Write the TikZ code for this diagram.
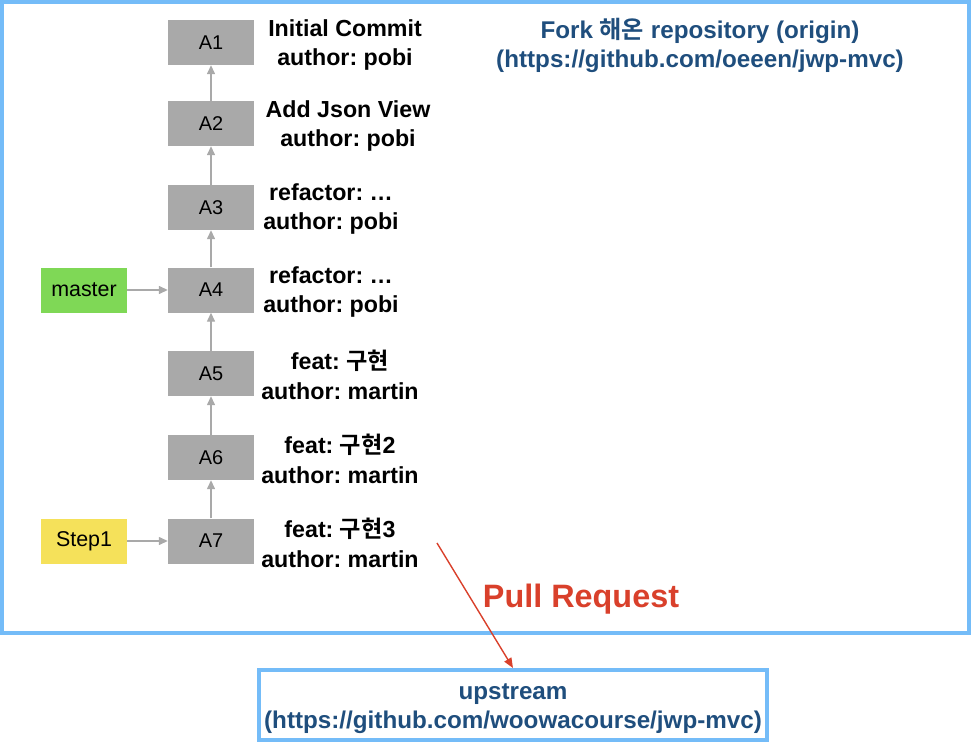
\documentclass[tikz,border=0pt]{standalone}
\usepackage{fontspec}
\setmainfont{Liberation Sans}
\newfontfamily\kr{Noto Sans CJK KR}[BoldFont={Noto Sans CJK KR Bold}]
\usetikzlibrary{arrows.meta}
\frenchspacing
\definecolor{frameblue}{HTML}{74BCF8}
\definecolor{txtblue}{HTML}{1F4E7D}
\definecolor{boxgray}{HTML}{A9A9A9}
\definecolor{mastergreen}{HTML}{7FD856}
\definecolor{stepyellow}{HTML}{F5E15A}
\definecolor{prred}{HTML}{D9402B}
\tikzset{
  commit/.style={fill=boxgray, minimum width=86bp, minimum height=45bp, inner sep=0pt, font=\fontsize{20}{22}\selectfont},
  branch/.style={minimum width=86bp, minimum height=45bp, inner sep=0pt, font=\fontsize{21.5}{22}\selectfont},
  msg/.style={align=center, inner sep=0pt, font=\fontsize{23.3}{29.5}\selectfont\bfseries},
  parent/.style={draw=boxgray, line width=1.4bp, -{Triangle[length=9bp,width=8bp]}},
  frame/.style={draw=frameblue, line width=4bp},
  bluetxt/.style={align=center, inner sep=0pt, text=txtblue, font=\fontsize{24.3}{29}\selectfont\bfseries},
}
\begin{document}
\begin{tikzpicture}[x=1bp,y=-1bp]
\frenchspacing
\useasboundingbox (0,0) rectangle (972,743);
\draw[frame] (2,2) rectangle (969,633);
\node[commit] (A1) at (211,42.5) {A1};
\node[commit] (A2) at (211,123.5) {A2};
\node[commit] (A3) at (211,207.5) {A3};
\node[commit] (A4) at (211,290) {A4};
\node[commit] (A5) at (211,373.5) {A5};
\node[commit] (A6) at (211,457.5) {A6};
\node[commit] (A7) at (211,541) {A7};
\node[branch, fill=mastergreen] (master) at (84,290) {master};
\node[branch, fill=stepyellow] (step1) at (84,541) {Step1};
\node[msg] (m1) at (345,45) {Initial Commit\\author: pobi};
\node[msg] (m2) at (348,126) {Add Json View\\author: pobi};
\node[msg] (m3) at (331,209) {refactor: \ldots\\author: pobi};
\node[msg] (m4) at (331,292) {refactor: \ldots\\author: pobi};
\node[msg] (m5) at (340,375) {feat: {\kr 구현}\\author: martin};
\node[msg] (m6) at (340,459) {feat: {\kr 구현}2\\author: martin};
\node[msg] (m7) at (340,543) {feat: {\kr 구현}3\\author: martin};
\draw[parent] (A2) -- (A1);
\draw[parent] (A3) -- (A2);
\draw[parent] (A4) -- (A3);
\draw[parent] (A5) -- (A4);
\draw[parent] (A6) -- (A5);
\draw[parent] (A7) -- (A6);
\draw[parent] (master) -- (A4);
\draw[parent] (step1) -- (A7);
\node[bluetxt] (origin) at (700,45) {Fork {\kr 해온} repository (origin)\\(https://github.com/oeeen/jwp-mvc)};
\node[frame, minimum width=508bp, minimum height=70bp, inner sep=0pt] (up) at (513,705) {};
\node[bluetxt] (uptxt) at (513,709) {upstream\\(https://github.com/woowacourse/jwp-mvc)};
\coordinate (prstart) at (437,543);
\draw[draw=prred, line width=1.4bp, -{Triangle[length=10bp,width=8bp]}] (prstart) -- (up.north);
\node[text=prred, inner sep=0pt, font=\fontsize{32.5}{34}\selectfont\bfseries] (pr) at (581,599) {Pull Request};
\end{tikzpicture}
\end{document}
